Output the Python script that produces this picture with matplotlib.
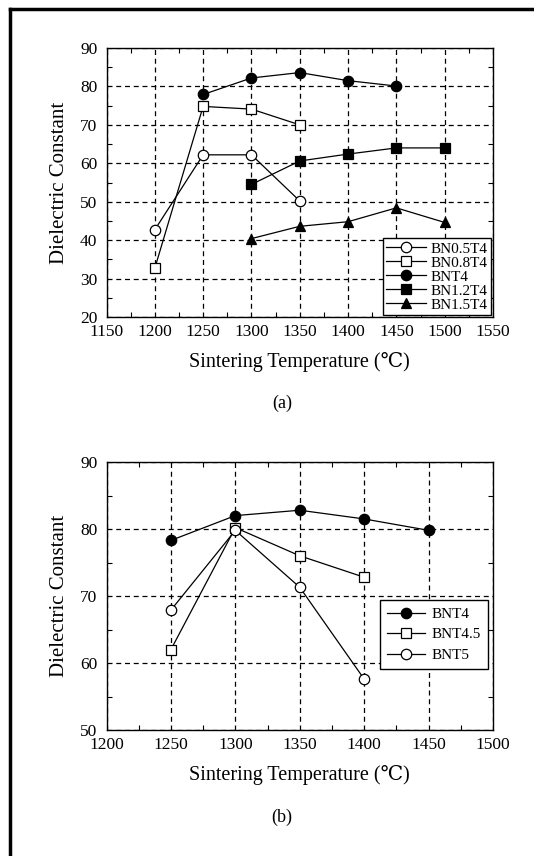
import matplotlib
matplotlib.use("Agg")
import matplotlib.pyplot as plt
from matplotlib.ticker import MultipleLocator
from matplotlib.lines import Line2D

plt.rcParams['font.family'] = ['Liberation Serif', 'DejaVu Serif', 'Noto Sans CJK SC']

# Panel (a) data
bn05_x = [1200, 1250, 1300, 1350]
bn05_y = [42.7, 62.2, 62.2, 50.2]
bn08_x = [1200, 1250, 1300, 1350]
bn08_y = [32.7, 74.8, 74.1, 70.0]
bnt4a_x = [1250, 1300, 1350, 1400, 1450]
bnt4a_y = [77.9, 82.2, 83.6, 81.5, 80.1]
bn12_x = [1300, 1350, 1400, 1450, 1500]
bn12_y = [54.5, 60.6, 62.4, 64.0, 64.0]
bn15_x = [1300, 1350, 1400, 1450, 1500]
bn15_y = [40.4, 43.6, 44.8, 48.4, 44.6]
labels_a = ['BN0.5T4', 'BN0.8T4', 'BNT4', 'BN1.2T4', 'BN1.5T4']

# Panel (b) data
bnt4b_x = [1250, 1300, 1350, 1400, 1450]
bnt4b_y = [78.3, 82.0, 82.8, 81.5, 79.8]
bnt45_x = [1250, 1300, 1350, 1400]
bnt45_y = [62.0, 80.2, 76.0, 72.8]
bnt5_x = [1250, 1300, 1350, 1400]
bnt5_y = [67.9, 79.8, 71.3, 57.6]
labels_b = ['BNT4', 'BNT4.5', 'BNT5']

W, H = 534, 856
fig = plt.figure(figsize=(W / 100, H / 100), dpi=100)

def ax_rect(l, t, r, b):
    return [l / W, 1 - b / H, (r - l) / W, (b - t) / H]

axa = fig.add_axes(ax_rect(106.5, 48, 493, 317))
axb = fig.add_axes(ax_rect(106.5, 462, 493, 730))

ms = 7.5
def series(ax, x, y, marker, filled, label):
    ax.plot(x, y, color='black', lw=0.9, marker=marker, ms=ms,
            mfc='black' if filled else 'white', mec='black', mew=0.9,
            label=label, zorder=3)

series(axa, bn05_x, bn05_y, 'o', False, labels_a[0])
series(axa, bn08_x, bn08_y, 's', False, labels_a[1])
series(axa, bnt4a_x, bnt4a_y, 'o', True, labels_a[2])
series(axa, bn12_x, bn12_y, 's', True, labels_a[3])
series(axa, bn15_x, bn15_y, '^', True, labels_a[4])

series(axb, bnt4b_x, bnt4b_y, 'o', True, labels_b[0])
series(axb, bnt45_x, bnt45_y, 's', False, labels_b[1])
series(axb, bnt5_x, bnt5_y, 'o', False, labels_b[2])

def style(ax, xlim, ylim, xmaj, ymaj):
    ax.set_xlim(*xlim)
    ax.set_ylim(*ylim)
    ax.xaxis.set_major_locator(MultipleLocator(xmaj))
    ax.xaxis.set_minor_locator(MultipleLocator(25))
    ax.yaxis.set_major_locator(MultipleLocator(ymaj))
    ax.yaxis.set_minor_locator(MultipleLocator(5))
    ax.tick_params(which='both', direction='in', top=True, right=True,
                   labelsize=12.5, width=0.8)
    ax.tick_params(which='major', length=0)
    ax.tick_params(which='minor', length=3.5)
    ax.tick_params(axis='x', which='major', pad=5)
    ax.tick_params(axis='y', which='major', pad=6.5)
    ax.grid(True, which='major', color='black', ls=(0, (4, 3)), lw=0.9)
    for s in ax.spines.values():
        s.set_linewidth(1.0)
    ax.set_xlabel('Sintering Temperature (℃)', fontsize=14.5, labelpad=9)
    ax.set_ylabel('Dielectric Constant', fontsize=15, labelpad=8)

style(axa, (1150, 1550), (20, 90), 50, 10)
style(axb, (1200, 1500), (50, 90), 50, 10)

lega = axa.legend(loc='lower right', fontsize=11, frameon=True, fancybox=False,
                  edgecolor='black', framealpha=1, handlelength=2.6,
                  handletextpad=0.3, borderpad=0.25, labelspacing=0.02,
                  borderaxespad=0.1)
lega.get_frame().set_linewidth(1.0)
legb = axb.legend(loc='center right', bbox_to_anchor=(0.987, 0.356), fontsize=11,
                  frameon=True, fancybox=False, edgecolor='black', framealpha=1,
                  handlelength=2.5, handletextpad=0.45, borderpad=0.45,
                  labelspacing=0.45, borderaxespad=0)
legb.get_frame().set_linewidth(1.0)

fig.text(282 / W, 1 - 403 / H, '(a)', ha='center', va='center', fontsize=13)
fig.text(282 / W, 1 - 817 / H, '(b)', ha='center', va='center', fontsize=13)

# outer frame (top and left edges)
fig.add_artist(Line2D([10 / W, 1.0], [1 - 9 / H, 1 - 9 / H], color='black', lw=2.5,
                      transform=fig.transFigure))
fig.add_artist(Line2D([10 / W, 10 / W], [1 - 9 / H, 0.0], color='black', lw=2.5,
                      transform=fig.transFigure))

fig.savefig('out.png', dpi=100)
